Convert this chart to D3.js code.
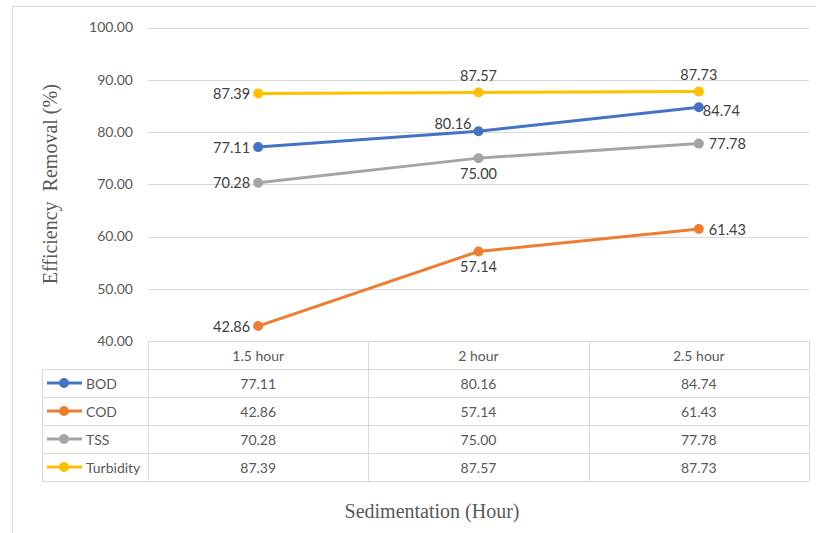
<!DOCTYPE html>
<html>
<head>
<meta charset="utf-8">
<script src="https://cdn.jsdelivr.net/npm/d3@7"></script>
<style>
  html, body { margin: 0; padding: 0; background: #fff; }
  svg { display: block; }
  text { font-family: Lato, "Open Sans", "Liberation Sans", sans-serif; }
</style>
</head>
<body>
<svg id="chart" width="816" height="533"></svg>
<script>
// ---- data ----
const categories = ["1.5 hour", "2 hour", "2.5 hour"];
const seriesNames = ["BOD", "COD", "TSS", "Turbidity"];
const bodValues = [77.11, 80.16, 84.74];
const codValues = [42.86, 57.14, 61.43];
const tssValues = [70.28, 75.00, 77.78];
const turbidityValues = [87.39, 87.57, 87.73];
const yTicks = [40, 50, 60, 70, 80, 90, 100];
const yTitle = "Efficiency  Removal (%)";
const xTitle = "Sedimentation (Hour)";

// label placement per series/point (Excel style)
const bodLabelPos = ["left", "upleft", "rightclose"];
const codLabelPos = ["left", "below", "right"];
const tssLabelPos = ["left", "below", "right"];
const turbidityLabelPos = ["left", "above", "above"];

const colors = ["#4472C4", "#ED7D31", "#A5A5A5", "#FFC000"];
const series = [
  { name: seriesNames[0], values: bodValues, pos: bodLabelPos, color: colors[0] },
  { name: seriesNames[1], values: codValues, pos: codLabelPos, color: colors[1] },
  { name: seriesNames[2], values: tssValues, pos: tssLabelPos, color: colors[2] },
  { name: seriesNames[3], values: turbidityValues, pos: turbidityLabelPos, color: colors[3] }
];

const svg = d3.select("#chart");
const grid = "#d9d9d9";

// outer frame (partial, as in the clipped screenshot)
svg.append("line").attr("x1", 12.5).attr("x2", 12.5).attr("y1", 6.5).attr("y2", 533)
  .attr("stroke", grid).attr("stroke-width", 1);
svg.append("line").attr("x1", 12.5).attr("x2", 816).attr("y1", 6.5).attr("y2", 6.5)
  .attr("stroke", grid).attr("stroke-width", 1);

const plotLeft = 148, plotRight = 809, plotTop = 27.5, plotBottom = 341;

const x = d3.scaleBand().domain(categories).range([plotLeft, plotRight]).padding(0);
const xc = c => x(c) + x.bandwidth() / 2;
const y = d3.scaleLinear().domain([40, 100]).range([plotBottom, plotTop]);

// y axis with gridlines
const yAxis = d3.axisLeft(y).tickValues(yTicks).tickFormat(d3.format(".2f"))
  .tickSize(-(plotRight - plotLeft)).tickPadding(15);
const gy = svg.append("g").attr("transform", `translate(${plotLeft},0)`).call(yAxis);
gy.select(".domain").remove();
gy.selectAll(".tick line").attr("stroke", grid).attr("stroke-width", 1)
  .attr("shape-rendering", "crispEdges");
gy.selectAll(".tick text").attr("fill", "#595959").attr("font-size", 14)
  .style("font-family", 'Lato, "Open Sans", sans-serif');

// y title
svg.append("text")
  .attr("transform", `translate(50,${(plotTop + plotBottom) / 2}) rotate(-90)`)
  .attr("text-anchor", "middle")
  .attr("dominant-baseline", "central")
  .attr("fill", "#595959")
  .attr("font-size", 20)
  .style("font-family", '"Liberation Serif", "Times New Roman", serif')
  .style("white-space", "pre")
  .text(yTitle);

// lines
const line = d3.line().x((d, i) => xc(categories[i])).y(d => y(d));
series.forEach(s => {
  svg.append("path").datum(s.values).attr("d", line)
    .attr("fill", "none").attr("stroke", s.color).attr("stroke-width", 3)
    .attr("stroke-linecap", "round").attr("stroke-linejoin", "round");
  svg.selectAll(null).data(s.values).enter().append("circle")
    .attr("cx", (d, i) => xc(categories[i])).attr("cy", d => y(d)).attr("r", 5)
    .attr("fill", s.color);
});

// data labels
series.forEach(s => {
  s.values.forEach((v, i) => {
    const px = xc(categories[i]), py = y(v);
    const p = s.pos[i];
    let tx = px, ty = py, anchor = "middle";
    if (p === "left") { tx = px - 8; anchor = "end"; }
    else if (p === "upleft") { tx = px - 7; ty = py - 8; anchor = "end"; }
    else if (p === "right") { tx = px + 10; anchor = "start"; }
    else if (p === "rightclose") { tx = px + 4; ty = py + 3; anchor = "start"; }
    else if (p === "above") { ty = py - 17; }
    else if (p === "below") { ty = py + 15; }
    svg.append("text").attr("x", tx).attr("y", ty)
      .attr("text-anchor", anchor).attr("dominant-baseline", "central")
      .attr("fill", "#404040").attr("font-size", 14.5)
      .text(d3.format(".2f")(v));
  });
});

// data table
const headerTop = plotBottom, rowH = 28;
const legendLeft = 42;
const tableG = svg.append("g").attr("shape-rendering", "crispEdges");
const rows = series.length;
const tableBottom = headerTop + rowH + rows * rowH;
// horizontal lines
tableG.append("line").attr("x1", plotLeft).attr("x2", plotRight)
  .attr("y1", headerTop + 0.5).attr("y2", headerTop + 0.5).attr("stroke", grid);
for (let r = 0; r <= rows; r++) {
  const yy = headerTop + rowH + r * rowH + 0.5;
  tableG.append("line").attr("x1", legendLeft).attr("x2", plotRight)
    .attr("y1", yy).attr("y2", yy).attr("stroke", grid);
}
// vertical lines
tableG.append("line").attr("x1", legendLeft + 0.5).attr("x2", legendLeft + 0.5)
  .attr("y1", headerTop + rowH).attr("y2", tableBottom).attr("stroke", grid);
categories.forEach(c => {
  tableG.append("line").attr("x1", x(c) + 0.5).attr("x2", x(c) + 0.5)
    .attr("y1", headerTop).attr("y2", tableBottom).attr("stroke", grid);
});
tableG.append("line").attr("x1", plotRight + 0.5).attr("x2", plotRight + 0.5)
  .attr("y1", headerTop).attr("y2", tableBottom).attr("stroke", grid);

// header text
categories.forEach(c => {
  svg.append("text").attr("x", xc(c)).attr("y", headerTop + rowH / 2)
    .attr("text-anchor", "middle").attr("dominant-baseline", "central")
    .attr("fill", "#595959").attr("font-size", 14).text(c);
});
// rows
series.forEach((s, r) => {
  const cy = headerTop + rowH + r * rowH + rowH / 2;
  svg.append("line").attr("x1", 47).attr("x2", 82).attr("y1", cy).attr("y2", cy)
    .attr("stroke", s.color).attr("stroke-width", 3);
  svg.append("circle").attr("cx", 64).attr("cy", cy).attr("r", 5).attr("fill", s.color);
  svg.append("text").attr("x", 86).attr("y", cy).attr("dominant-baseline", "central")
    .attr("fill", "#595959").attr("font-size", 14).text(s.name);
  s.values.forEach((v, i) => {
    svg.append("text").attr("x", xc(categories[i])).attr("y", cy)
      .attr("text-anchor", "middle").attr("dominant-baseline", "central")
      .attr("fill", "#595959").attr("font-size", 14).text(d3.format(".2f")(v));
  });
});

// x title
svg.append("text").attr("x", 432).attr("y", 511)
  .attr("text-anchor", "middle").attr("dominant-baseline", "central")
  .attr("fill", "#595959").attr("font-size", 20)
  .style("font-family", '"Liberation Serif", "Times New Roman", serif')
  .text(xTitle);
</script>
</body>
</html>
